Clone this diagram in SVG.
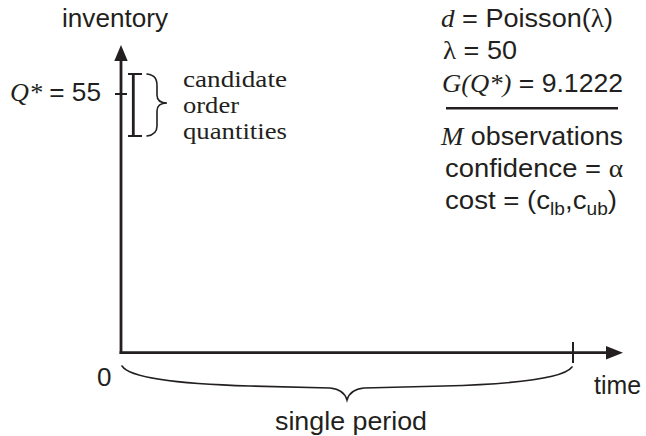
<svg xmlns="http://www.w3.org/2000/svg" width="646" height="436" viewBox="0 0 646 436">
<style>
  .sans { font-family: "Liberation Sans", Arial, sans-serif; font-size: 26px; fill: #231f20; }
  .serif { font-family: "Liberation Serif", "Times New Roman", serif; font-size: 23px; fill: #231f20; }
  .it { font-family: "Liberation Serif", "Times New Roman", serif; font-style: italic; }
  .sym { font-family: "Liberation Serif", "Times New Roman", serif; }
  .ax { stroke: #231f20; stroke-width: 2.8; fill: none; }
  .thin { stroke: #231f20; stroke-width: 2; fill: none; }
  .brace { stroke: #231f20; stroke-width: 1.6; fill: none; stroke-linecap: round; }
  .head { fill: #231f20; }
</style>
<rect width="646" height="436" fill="#ffffff"/>

<g id="axes">
  <line class="ax" x1="121" y1="354" x2="121" y2="58"/>
  <polygon class="head" points="121,45 114.3,61 127.7,61"/>
  <line class="ax" x1="119.6" y1="352.7" x2="609" y2="352.7"/>
  <polygon class="head" points="623,352.7 606,346 606,359.4"/>
  <line class="thin" x1="115" y1="94" x2="127" y2="94"/>
  <line class="thin" x1="573" y1="342" x2="573" y2="363"/>
</g>

<g id="candidate-range">
  <line class="ax" x1="133.3" y1="74" x2="133.3" y2="136"/>
  <line class="thin" x1="128" y1="74" x2="142" y2="74"/>
  <line class="thin" x1="128" y1="136" x2="142" y2="136"/>
  <path class="brace" d="M147,74 C155,75 157,79 157,86 L157,95 C157,100 160,103 167,103 C160,103 157,106 157,111 L157,126 C157,132 154,135 147,136"/>
</g>

<g id="period-brace">
  <path class="brace" d="M122,366 C130,378 180,384 250,386 L330,388 C340,389 345,393 347,400 C349,393 354,389 364,388 L444,386 C514,384 564,378 572,367"/>
</g>

<g id="labels">
  <text class="sans" x="62" y="27" textLength="106" lengthAdjust="spacingAndGlyphs">inventory</text>
  <text class="sans" x="10" y="101" textLength="91" lengthAdjust="spacingAndGlyphs"><tspan class="it">Q*</tspan> = 55</text>
  <text class="serif" x="183" y="87" textLength="104" lengthAdjust="spacingAndGlyphs">candidate</text>
  <text class="serif" x="183" y="113" textLength="56" lengthAdjust="spacingAndGlyphs">order</text>
  <text class="serif" x="183" y="139" textLength="104" lengthAdjust="spacingAndGlyphs">quantities</text>
  <text class="sans" x="97" y="386" textLength="14.5" lengthAdjust="spacingAndGlyphs">0</text>
  <text class="sans" x="594" y="394" textLength="47" lengthAdjust="spacingAndGlyphs">time</text>
  <text class="sans" x="275" y="430" textLength="152" lengthAdjust="spacingAndGlyphs">single period</text>
</g>

<g id="parameters">
  <text class="sans" x="441" y="27" textLength="172" lengthAdjust="spacingAndGlyphs"><tspan class="it">d</tspan> = Poisson(<tspan class="sym">λ</tspan>)</text>
  <text class="sans" x="443" y="59" textLength="74" lengthAdjust="spacingAndGlyphs"><tspan class="sym">λ</tspan> = 50</text>
  <text class="sans" x="442" y="92" textLength="181" lengthAdjust="spacingAndGlyphs"><tspan class="it">G(Q*)</tspan> = 9.1222</text>
  <line x1="446" y1="108.3" x2="618" y2="108.3" stroke="#231f20" stroke-width="2.6"/>
  <text class="sans" x="441" y="145" textLength="182" lengthAdjust="spacingAndGlyphs"><tspan class="it">M</tspan> observations</text>
  <text class="sans" x="445" y="177" textLength="178" lengthAdjust="spacingAndGlyphs">confidence = <tspan class="sym">α</tspan></text>
  <text class="sans" x="445" y="209" textLength="172" lengthAdjust="spacingAndGlyphs">cost = (c<tspan font-size="18" dy="6">lb</tspan><tspan dy="-6">,c</tspan><tspan font-size="18" dy="6">ub</tspan><tspan dy="-6">)</tspan></text>
</g>
</svg>
